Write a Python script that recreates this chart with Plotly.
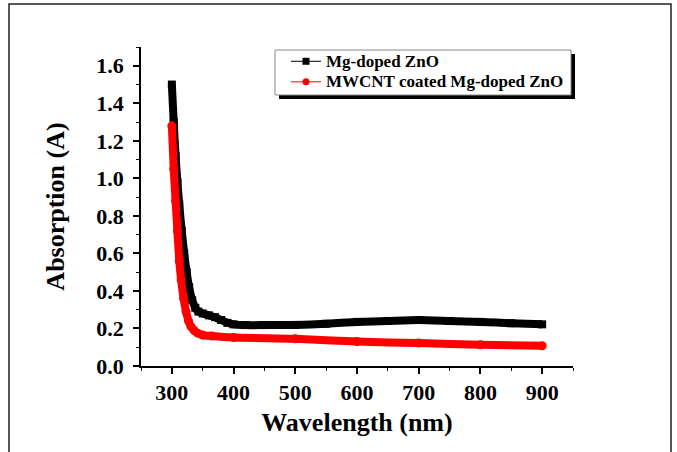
import plotly.graph_objects as go

# Data
wl_mg = [300, 303, 306, 309, 312, 316, 320, 324, 328, 333, 338, 343, 350, 360, 370,
         380, 390, 400, 420, 450, 500, 550, 600, 650, 700, 750, 800, 850, 900]
abs_mg = [1.50, 1.30, 1.12, 0.98, 0.86, 0.72, 0.60, 0.50, 0.42, 0.35, 0.31, 0.29, 0.28,
          0.27, 0.26, 0.245, 0.23, 0.222, 0.218, 0.218, 0.219, 0.225, 0.235, 0.24,
          0.245, 0.24, 0.235, 0.228, 0.222]

wl_cnt = [300, 303, 306, 309, 312, 315, 319, 323, 327, 331, 336, 342, 350, 365, 400,
          500, 600, 700, 800, 900]
abs_cnt = [1.28, 1.05, 0.88, 0.72, 0.56, 0.46, 0.36, 0.29, 0.24, 0.21, 0.19, 0.175,
           0.165, 0.16, 0.152, 0.145, 0.13, 0.122, 0.113, 0.108]

name_mg = "Mg-doped ZnO"
name_cnt = "MWCNT coated Mg-doped ZnO"

x_ticks = [300, 400, 500, 600, 700, 800, 900]
y_ticks = [0.0, 0.2, 0.4, 0.6, 0.8, 1.0, 1.2, 1.4, 1.6]

FONT = "Liberation Serif"

fig = go.Figure()

# Thick data bands (dense markers in original)
fig.add_trace(go.Scatter(x=wl_mg, y=abs_mg, mode="lines+markers", showlegend=False,
                         line=dict(color="black", width=8, shape="spline", smoothing=0.6),
                         marker=dict(symbol="square", size=8, color="black")))
fig.add_trace(go.Scatter(x=wl_cnt, y=abs_cnt, mode="lines+markers", showlegend=False,
                         line=dict(color="#ff0000", width=8, shape="spline", smoothing=0.6),
                         marker=dict(symbol="circle", size=9, color="#ff0000")))

# Legend entries
fig.add_trace(go.Scatter(x=[None], y=[None], mode="lines+markers",
                         name=f"<span style='font-size:17px'>{name_mg}</span>",
                         line=dict(color="black", width=1),
                         marker=dict(symbol="square", size=7, color="black")))
fig.add_trace(go.Scatter(x=[None], y=[None], mode="lines+markers",
                         name=f"<span style='font-size:17px'>{name_cnt}</span>",
                         line=dict(color="#ff0000", width=1),
                         marker=dict(symbol="circle", size=7, color="#ff0000")))

L, R, T, B = 141, 104, 47, 86
W, H = 677, 452
pw, ph = W - L - R, H - T - B


def px(x):
    return (x - L) / pw


def py(y):
    return (H - B - y) / ph


shapes = [
    # outer frame
    dict(type="rect", xref="paper", yref="paper", x0=px(9), x1=px(671), y0=py(470), y1=py(4),
         line=dict(color="#222222", width=1.5), fillcolor="rgba(0,0,0,0)", layer="below"),
    # legend shadow
    dict(type="rect", xref="paper", yref="paper", x0=px(279), x1=px(575), y0=py(99), y1=py(54),
         line=dict(width=0), fillcolor="black", layer="above"),
    # legend box
    dict(type="rect", xref="paper", yref="paper", x0=px(275), x1=px(571), y0=py(95), y1=py(50),
         line=dict(color="#888888", width=1), fillcolor="white", layer="above"),
]

fig.update_layout(
    width=W, height=H,
    margin=dict(l=L, r=R, t=T, b=B, autoexpand=False),
    paper_bgcolor="white", plot_bgcolor="white",
    font=dict(family=FONT, color="black"),
    shapes=shapes,
    showlegend=True,
    legend=dict(x=px(286), y=py(46), xanchor="left", yanchor="top",
                bgcolor="rgba(0,0,0,0)", borderwidth=0,
                font=dict(family=FONT, size=13.5, color="black", weight="bold"),
                tracegroupgap=0, itemwidth=30),
    xaxis=dict(range=[250, 950], tickvals=x_ticks, ticktext=[str(v) for v in x_ticks],
               showgrid=False, zeroline=False, showline=True, linecolor="black", linewidth=1.5,
               ticks="outside", ticklen=6, tickwidth=1.5, tickcolor="black",
               ticklabelstandoff=0,
               minor=dict(dtick=50, ticks="outside", ticklen=3, tickwidth=1.2, tickcolor="black",
                          showgrid=False),
               tickfont=dict(family=FONT, size=22, weight="bold"),
               title=dict(text="Wavelength (nm)", font=dict(family=FONT, size=26, weight="bold"),
                          standoff=9)),
    yaxis=dict(range=[0, 1.7], tickvals=y_ticks, ticktext=[f"{v:.1f}" for v in y_ticks],
               showgrid=False, zeroline=False, showline=True, linecolor="black", linewidth=1.5,
               ticks="outside", ticklen=6, tickwidth=1.5, tickcolor="black",
               ticklabelstandoff=5,
               minor=dict(dtick=0.1, ticks="outside", ticklen=3, tickwidth=1.2, tickcolor="black",
                          showgrid=False),
               tickfont=dict(family=FONT, size=22, weight="bold"),
               title=dict(text="Absorption (A)", font=dict(family=FONT, size=26, weight="bold"),
                          standoff=24)),
)

fig.write_html("out.html", config={"displayModeBar": False},
               post_script="document.body.style.margin='0';document.body.style.overflow='hidden';")
